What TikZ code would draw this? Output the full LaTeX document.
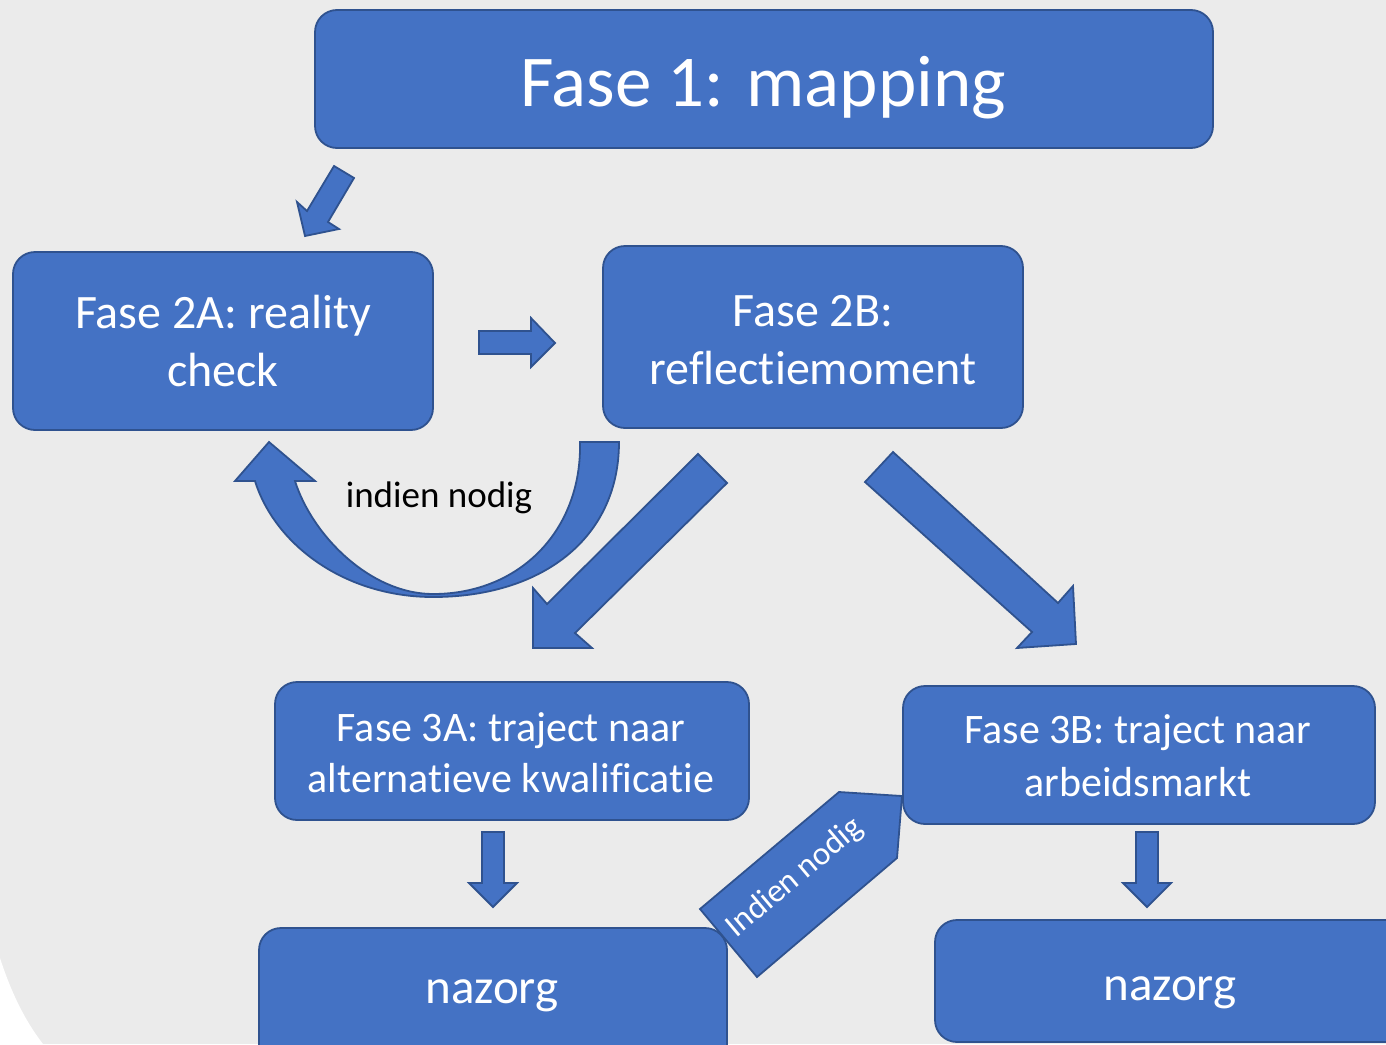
\documentclass[tikz,border=0pt]{standalone}
\usepackage{fontspec}
\setmainfont{Carlito}[Ligatures={CommonOff}]
\definecolor{bluefill}{HTML}{4472C4}
\definecolor{blueline}{HTML}{2F528F}
\definecolor{bgc}{HTML}{EBEBEB}
\begin{document}
\begin{tikzpicture}[x=0.5pt,y=-0.5pt,
  box/.style={draw=blueline, fill=bluefill, line width=0.9pt, rounded corners=11pt, inner sep=0pt},
  barrow/.style={draw=blueline, fill=bluefill, line width=0.9pt, line join=miter},
  wtxt/.style={text=white, inner sep=0pt, anchor=base, align=center},
]
\useasboundingbox (0,0) rectangle (1386,1044);
\clip (0,0) rectangle (1386,1044);
% background
\fill[bgc] (0,0) rectangle (1386,1044);
\fill[white] (0,958) .. controls (12,995) and (26,1022) .. (43,1044) -- (0,1044) -- cycle;

% boxes
\node[box, minimum width=449pt, minimum height=69pt] (b1) at (764,79) {};
\node[box, minimum width=210pt, minimum height=89pt] (b2a) at (223,341) {};
\node[box, minimum width=210pt, minimum height=91pt] (b2b) at (813,337) {};
\node[box, minimum width=237pt, minimum height=69pt] (b3a) at (512,751) {};
\node[box, minimum width=236pt, minimum height=69pt] (b3b) at (1139,755) {};
\node[box, minimum width=234pt, minimum height=71pt] (n1) at (493,999) {};
\node[box, minimum width=242.5pt, minimum height=61pt] (n2) at (1177.5,981) {};

% texts (anchor=base sits on the last line's baseline)
\node[wtxt, font=\fontsize{36.5}{44}\selectfont] (t1) at (763,106) {Fase 1: mapping};
\node[wtxt, font=\fontsize{24}{29}\selectfont] (t2a) at (223,386) {Fase 2A: reality\\check};
\node[wtxt, font=\fontsize{24}{29}\selectfont] (t2b) at (813,384) {Fase 2B:\\reflectiemoment};
\node[wtxt, font=\fontsize{21}{25.3}\selectfont] (t3a) at (511,792) {Fase 3A: traject naar\\alternatieve kwalificatie};
\node[wtxt, font=\fontsize{21}{26.3}\selectfont] (t3b) at (1138,796) {Fase 3B: traject naar\\arbeidsmarkt};
\node[wtxt, font=\fontsize{24.5}{30}\selectfont] (tn1) at (492,1003) {nazorg};
\node[wtxt, font=\fontsize{24.5}{30}\selectfont] (tn2) at (1170,1000) {nazorg};

% block arrows
\draw[barrow] (334,166) -- (354,178) -- (328,222) -- (339,229) -- (305,236) -- (297,202) -- (307,211) -- cycle;
\draw[barrow] (479,331) -- (531,331) -- (531,318) -- (555,343) -- (531,367) -- (531,354) -- (479,354) -- cycle;
\draw[barrow] (698,454) -- (727,483) -- (575,633) -- (592,648) -- (533,648) -- (533,588) -- (547,604) -- cycle;
\draw[barrow] (893,452) -- (1058,603) -- (1073,586) -- (1076,644) -- (1017,648) -- (1032,632) -- (865,482) -- cycle;
\draw[barrow] (482,832) -- (504,832) -- (504,883) -- (517,883) -- (493,907) -- (469,883) -- (482,883) -- cycle;
\draw[barrow] (1136,832) -- (1158,832) -- (1158,883) -- (1171,883) -- (1147,907) -- (1123,883) -- (1136,883) -- cycle;
% U-turn arrow
\draw[barrow] (580,442) -- (619,442) .. controls (619,540) and (540,597) .. (433,597)
  .. controls (345,597) and (275,545) .. (255,481) -- (235,481) -- (269,442) -- (315,481) -- (295,481)
  .. controls (312,535) and (370,594) .. (433,594) .. controls (520,594) and (582,530) .. (580,442) -- cycle;
\node[inner sep=0pt, anchor=base, text=black, font=\fontsize{18.5}{22}\selectfont] (tin) at (439,507) {indien nodig};
% pentagon arrow
\draw[barrow] (839,792) -- (902,796) -- (897,858) -- (757,977) -- (700,909) -- cycle;
\node[inner sep=0pt, text=white, rotate=40, font=\fontsize{16.5}{20}\selectfont] (tpn) at (795,878) {Indien nodig};
\end{tikzpicture}
\end{document}
